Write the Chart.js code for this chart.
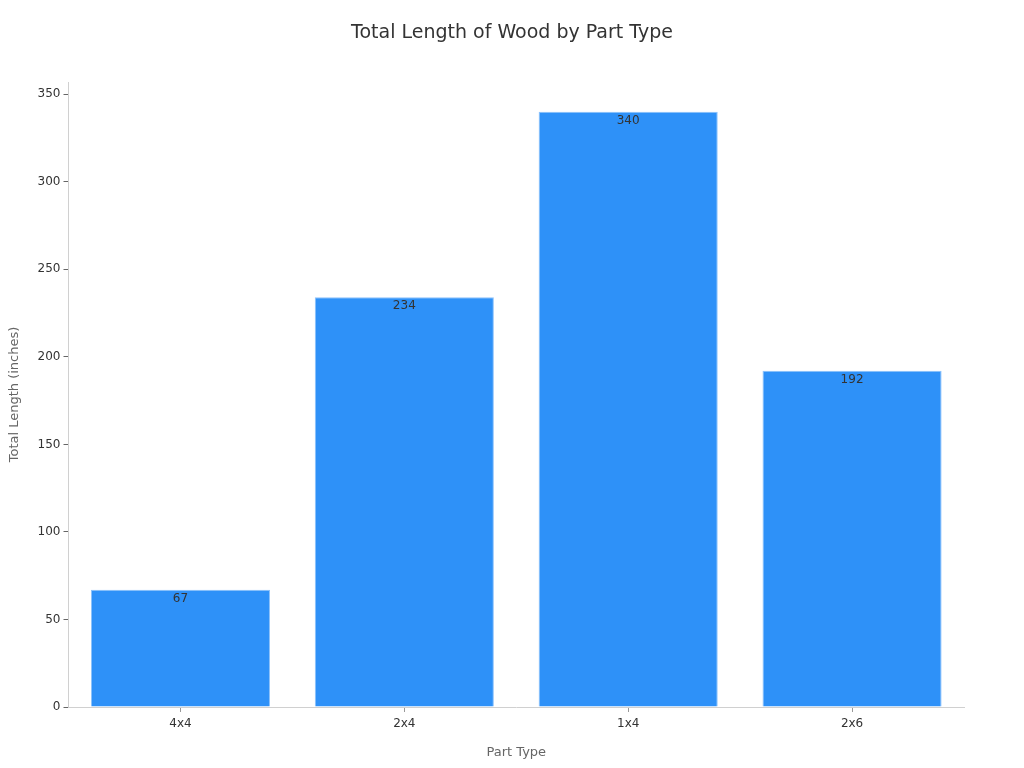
<!DOCTYPE html>
<html>
<head>
<meta charset="utf-8">
<script src="https://cdn.jsdelivr.net/npm/chart.js@4/dist/chart.umd.min.js"></script>
<style>
  html, body { margin: 0; padding: 0; background: #fff; }
  #wrap { width: 1024px; height: 768px; position: relative; }
</style>
</head>
<body>
<div id="wrap"><canvas id="woodChart"></canvas></div>
<script>
const partTypes = ['4x4', '2x4', '1x4', '2x6'];
const totalLengths = [67, 234, 340, 192];
const yTicks = [0, 50, 100, 150, 200, 250, 300, 350];
const chartTitle = 'Total Length of Wood by Part Type';

const fontFamily = "'DejaVu Sans', sans-serif";

// value just inside the top of each bar, plus a title centred on the full canvas
const valueLabels = {
    id: 'valueLabels',
    afterDatasetsDraw(chart) {
        const c = chart.ctx;
        const meta = chart.getDatasetMeta(0);
        c.save();
        c.font = '12px ' + fontFamily;
        c.fillStyle = '#333333';
        c.textAlign = 'center';
        c.textBaseline = 'top';
        meta.data.forEach((bar, i) => {
            c.fillText(String(totalLengths[i]), bar.x, bar.y + 3);
        });
        c.font = '19px ' + fontFamily;
        c.textBaseline = 'middle';
        c.fillText(chartTitle, chart.width / 2, 33);
        c.restore();
    }
};

new Chart(document.getElementById('woodChart'), {
    type: 'bar',
    data: {
        labels: partTypes,
        datasets: [{
            label: 'Total Length',
            data: totalLengths,
            backgroundColor: '#2e91f8',
            borderColor: '#8cc2fb',
            borderWidth: 1,
            barPercentage: 0.8,
            categoryPercentage: 1.0
        }]
    },
    options: {
        responsive: true,
        maintainAspectRatio: false,
        animation: false,
        layout: { padding: { left: 3, right: 60, top: 82, bottom: 4 } },
        plugins: {
            legend: { display: false },
            tooltip: { enabled: false },
            title: { display: false }
        },
        scales: {
            x: {
                grid: { display: true, offset: false, drawOnChartArea: false, tickLength: 5, color: '#999999' },
                border: { color: '#d0d0d0' },
                ticks: { color: '#333333', font: { family: fontFamily, size: 12 }, padding: 5 },
                title: {
                    display: true,
                    text: 'Part Type',
                    color: '#666666',
                    font: { family: fontFamily, size: 13 },
                    padding: { top: 8 }
                }
            },
            y: {
                min: 0,
                max: 357,
                afterBuildTicks(axis) {
                    axis.ticks = yTicks.map(v => ({ value: v }));
                },
                grid: { display: true, drawOnChartArea: false, tickLength: 5, color: '#666666' },
                border: { color: '#d0d0d0' },
                ticks: { color: '#333333', font: { family: fontFamily, size: 12 }, padding: 3 },
                title: {
                    display: true,
                    text: 'Total Length (inches)',
                    color: '#666666',
                    font: { family: fontFamily, size: 13 },
                    padding: { bottom: 12 }
                }
            }
        }
    },
    plugins: [valueLabels]
});
</script>
</body>
</html>
